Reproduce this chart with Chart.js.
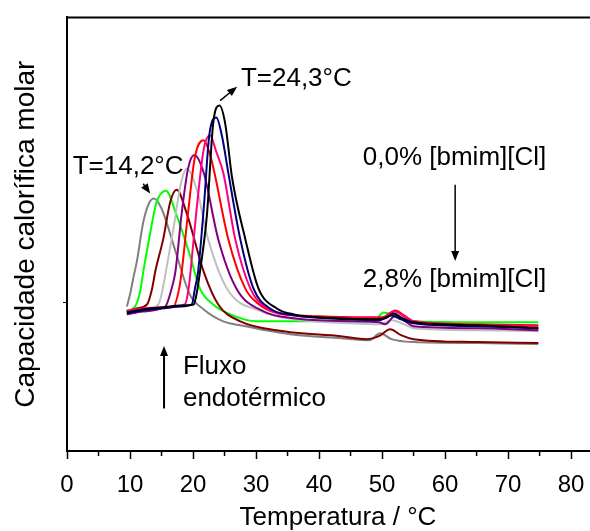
<!DOCTYPE html>
<html>
<head>
<meta charset="utf-8">
<script src="https://cdn.jsdelivr.net/npm/chart.js@4/dist/chart.umd.min.js"></script>
<style>
  html, body { margin: 0; padding: 0; background: #fff; }
  #wrap { width: 590px; height: 531px; position: relative; }
</style>
</head>
<body>
<div id="wrap"><canvas id="dscChart"></canvas></div>
<script>
// Temperature (°C) and molar heat capacity (arbitrary units) for each curve
const tBlack = [9.5, 12, 15, 18, 20.1, 20.6, 21.1, 22.2, 23.2, 24.2, 25.1, 26.2, 28.3, 30.4, 33.3, 36, 43, 48.5, 50.5, 51.8, 53, 55, 65, 74.8];
const cpBlack = [140, 143, 145, 147, 148, 160, 181, 238, 331, 349, 331, 276, 214, 164, 144, 138, 134, 133, 134, 139, 135, 130, 127, 124];

const tNavy = [9.5, 12, 15, 18, 19.8, 20.3, 20.8, 21.7, 22.6, 23.7, 24.6, 25.6, 27.5, 29.6, 32.2, 36, 45, 49.5, 51.5, 53, 55, 65, 74.8];
const cpNavy = [139, 142, 144, 146, 148, 164, 181, 245, 320, 337, 318, 281, 214, 164, 144, 137, 133, 132, 137, 133, 129, 126, 124];

const tPink = [9.5, 12, 15, 18.7, 19.3, 19.6, 20.5, 21.7, 22.7, 23.7, 24.8, 26.7, 29.1, 31.5, 36, 48, 50, 52, 53.5, 55, 65, 74.8];
const cpPink = [142, 144, 145, 148, 164, 181, 240, 305, 319, 302, 281, 214, 164, 145, 137, 134, 134, 141, 136, 131, 127, 126];

const tRed = [9.5, 12, 15, 16.9, 17.7, 18.2, 19.2, 20.3, 21.7, 22.8, 23.4, 25.6, 28.3, 30.5, 33, 40, 48, 50, 52.1, 53.5, 55, 65, 74.8];
const cpRed = [140, 143, 145, 146, 161, 181, 240, 297, 314, 297, 281, 214, 164, 148, 140, 136, 135, 135, 142, 137, 131, 128, 127];

const tPurple = [9.5, 12, 15.6, 16.6, 17.2, 18.2, 19.2, 20.2, 21.7, 24.0, 26.9, 31.2, 36, 45, 49.5, 50.5, 52, 53.5, 55, 65, 74.8];
const cpPurple = [138, 141, 146, 164, 181, 240, 285, 299, 281, 214, 164, 141, 134, 131, 130, 128, 136, 132, 126, 124, 122];

const tSilver = [9.5, 12, 14.5, 15.0, 15.8, 16.9, 18.0, 19.0, 20.6, 22.4, 25.4, 30.8, 36, 45, 49.5, 51.5, 53.5, 55, 65, 74.8];
const cpSilver = [138, 142, 148, 158, 185, 225, 268, 285, 264, 214, 164, 141, 133, 129, 128, 132, 128, 124, 122, 121];

const tMaroon = [9.5, 11, 12.7, 13.5, 14.0, 15.3, 16.4, 17.4, 19.0, 21.7, 24.0, 27.5, 34.4, 43.4, 47.6, 49.5, 51.3, 53, 55, 65, 74.8];
const cpMaroon = [141, 144, 148, 164, 181, 215, 252, 264, 240, 181, 148, 131, 121, 116, 113, 116, 123, 117, 113, 110, 109];

const tGreen = [9.4, 10.8, 11.6, 12.1, 13.2, 14.2, 15.7, 17.4, 19.5, 21.1, 23.2, 25.9, 30.1, 40, 48, 49.2, 50.2, 51.5, 53, 55, 65, 74.8];
const cpGreen = [141, 146, 161, 181, 220, 251, 263, 238, 198, 164, 148, 138, 131, 131, 131, 134, 140, 138, 134, 131, 130, 130];

const tGray = [9.5, 10, 10.5, 11.1, 12.1, 13, 13.8, 15.0, 15.8, 17.4, 19.5, 21.7, 24.8, 27.5, 35.4, 43.4, 48, 49.7, 51.5, 55, 65, 74.8];
const cpGray = [146, 158, 174, 192, 231, 250, 255, 245, 231, 198, 158, 143, 131, 127, 118, 114, 112, 119, 113, 110, 109, 108];

const xTicks = [0, 10, 20, 30, 40, 50, 60, 70, 80];

const FONT = "'Liberation Sans', Arial, sans-serif";

function pts(ts, cps) {
  return ts.map((t, i) => ({ x: t, y: cps[i] }));
}

const series = [
  { label: "0,0%", t: tBlack, cp: cpBlack, color: "#000000" },
  { label: "s2", t: tNavy, cp: cpNavy, color: "#000080" },
  { label: "s3", t: tPink, cp: cpPink, color: "#ff0080" },
  { label: "s4", t: tRed, cp: cpRed, color: "#ff0000" },
  { label: "s5", t: tPurple, cp: cpPurple, color: "#800080" },
  { label: "s6", t: tSilver, cp: cpSilver, color: "#c0c0c0" },
  { label: "s7", t: tMaroon, cp: cpMaroon, color: "#800000" },
  { label: "s8", t: tGreen, cp: cpGreen, color: "#00ff00" },
  { label: "2,8%", t: tGray, cp: cpGray, color: "#808080" }
];

// arrows and texts drawn in data coordinates
function arrow(ctx, x1, y1, x2, y2) {
  const ang = Math.atan2(y2 - y1, x2 - x1);
  const hl = 10, hw = 4;
  ctx.beginPath();
  ctx.moveTo(x1, y1);
  ctx.lineTo(x2 - hl * 0.8 * Math.cos(ang), y2 - hl * 0.8 * Math.sin(ang));
  ctx.stroke();
  ctx.beginPath();
  ctx.moveTo(x2, y2);
  ctx.lineTo(x2 - hl * Math.cos(ang) + hw * Math.sin(ang), y2 - hl * Math.sin(ang) - hw * Math.cos(ang));
  ctx.lineTo(x2 - hl * Math.cos(ang) - hw * Math.sin(ang), y2 - hl * Math.sin(ang) + hw * Math.cos(ang));
  ctx.closePath();
  ctx.fill();
}

const decorations = {
  id: "decorations",
  afterDraw(chart) {
    const { ctx, chartArea } = chart;
    const xs = chart.scales.x, ys = chart.scales.y;
    const X = v => xs.getPixelForValue(v), Y = v => ys.getPixelForValue(v);
    ctx.save();
    ctx.strokeStyle = "#000";
    ctx.fillStyle = "#000";

    // top frame line
    ctx.lineWidth = 2;
    ctx.beginPath();
    ctx.moveTo(chartArea.left - 1, chartArea.top);
    ctx.lineTo(chartArea.right, chartArea.top);
    ctx.stroke();

    // minor ticks
    ctx.lineWidth = 1.5;
    for (let v = 5; v < 83; v += 10) {
      ctx.beginPath();
      ctx.moveTo(X(v), chartArea.bottom);
      ctx.lineTo(X(v), chartArea.bottom + 5);
      ctx.stroke();
    }

    // x axis title
    ctx.font = "26px " + FONT;
    ctx.textAlign = "center";
    ctx.textBaseline = "middle";
    ctx.fillText("Temperatura / °C", X(43), 518);

    ctx.textAlign = "left";
    ctx.fillText("T=24,3°C", X(27.6), Y(376));
    ctx.fillText("T=14,2°C", X(0.9), Y(287));
    ctx.fillText("Fluxo", X(18.4), Y(85));
    ctx.fillText("endotérmico", X(18.4), Y(53));
    ctx.textAlign = "center";
    ctx.fillText("0,0% [bmim][Cl]", X(61.5), Y(296));
    ctx.fillText("2,8% [bmim][Cl]", X(61.5), Y(173));

    ctx.lineWidth = 1.5;
    arrow(ctx, X(24.3), Y(354), X(27.0), Y(368));
    arrow(ctx, X(12.1), Y(270), X(13.2), Y(260));
    arrow(ctx, X(61.6), Y(269), X(61.6), Y(192));
    ctx.lineWidth = 2;
    arrow(ctx, X(15.4), Y(43), X(15.4), Y(106));
    ctx.restore();
  }
};

document.addEventListener("DOMContentLoaded", () => {
  const canvas = document.getElementById("dscChart");

  new Chart(canvas, {
    type: "line",
    data: {
      datasets: series.map(s => ({
        label: s.label,
        data: pts(s.t, s.cp),
        borderColor: s.color,
        backgroundColor: s.color,
        borderWidth: 2,
        pointRadius: 0,
        cubicInterpolationMode: "monotone",
        fill: false
      }))
    },
    options: {
      responsive: true,
      maintainAspectRatio: false,
      animation: false,
      layout: { padding: { top: 13, left: 0, right: 0, bottom: 0 } },
      plugins: { legend: { display: false }, tooltip: { enabled: false } },
      scales: {
        x: {
          type: "linear",
          min: 0,
          max: 83,
          afterBuildTicks: s => { s.ticks = xTicks.map(v => ({ value: v })); },
          ticks: { font: { size: 24, family: FONT }, color: "#000", padding: 12, maxRotation: 0 },
          grid: { display: true, drawOnChartArea: false, tickLength: 8, tickColor: "#000", tickWidth: 1.5 },
          border: { color: "#000", width: 2 },
          title: { display: false },
          afterFit: s => { s.height = 80; s.paddingLeft = 0; s.paddingRight = 0; }
        },
        y: {
          min: 0,
          max: 438,
          afterBuildTicks: s => { s.ticks = [{ value: 150 }]; },
          ticks: { callback: () => "", font: { size: 24, family: FONT } },
          grid: { display: true, drawOnChartArea: false, tickLength: 4, tickColor: "#000", tickWidth: 1 },
          border: { color: "#000", width: 2 },
          title: { display: true, text: "Capacidade calorífica molar", color: "#000", font: { size: 28, family: FONT, lineHeight: 1.1 }, padding: { top: 11, bottom: 0 } },
          afterFit: s => { s.width = 67; }
        }
      }
    },
    plugins: [decorations]
  });
});
</script>
</body>
</html>
